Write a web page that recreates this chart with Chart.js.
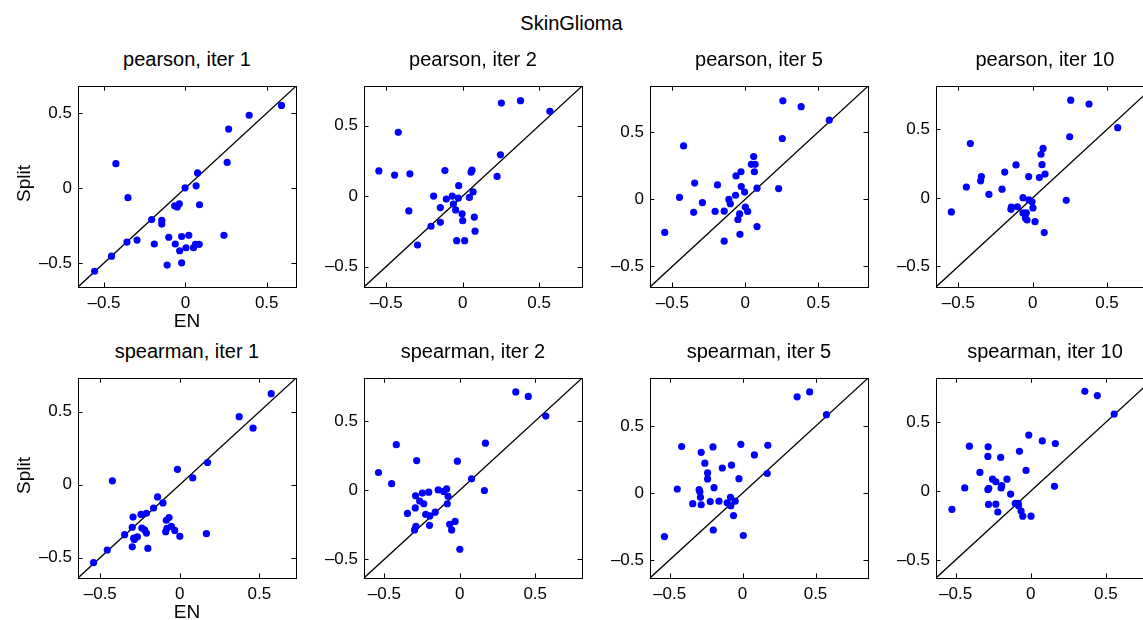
<!DOCTYPE html>
<html>
<head>
<meta charset="utf-8">
<script src="https://cdn.jsdelivr.net/npm/chart.js@4/dist/chart.umd.min.js"></script>
<style>
html,body{margin:0;padding:0;width:1143px;height:620px;overflow:hidden;background:#fff;}
#wrap{position:relative;width:1143px;height:620px;overflow:hidden;font-family:"Liberation Sans",Helvetica,Arial,sans-serif;color:#000;}
canvas{position:absolute;}
.t{position:absolute;white-space:nowrap;text-align:center;line-height:1;}
</style>
</head>
<body>
<div id="wrap"></div>
<script>
// ---- data ----
const mainTitle = "SkinGlioma";
const panelTitles = ["pearson, iter 1","pearson, iter 2","pearson, iter 5","pearson, iter 10",
                     "spearman, iter 1","spearman, iter 2","spearman, iter 5","spearman, iter 10"];
const xLabel = "EN";
const yLabel = "Split";
const tickValues = [-0.5, 0, 0.5];
const axisMin = [-0.66,-0.645,-0.653,-0.65,-0.64,-0.635,-0.635,-0.63];
const axisMax = [0.68,0.78,0.84,0.816,0.73,0.81,0.86,0.82];

const p1x = [-0.558,-0.454,-0.427,-0.353,-0.359,-0.297,-0.207,-0.191,-0.145,-0.145,-0.112,-0.102,-0.062,-0.066,-0.050,-0.037,-0.035,-0.023,-0.023,-0.002,0.004,0.021,0.050,0.062,0.085,0.066,0.075,0.087,0.237,0.257,0.266,0.392,0.591];
const p1y = [-0.555,-0.454,0.163,-0.064,-0.360,-0.347,-0.210,-0.373,-0.216,-0.240,-0.514,-0.328,-0.373,-0.118,-0.126,-0.105,-0.418,-0.323,-0.499,0.002,-0.398,-0.315,-0.398,-0.375,-0.375,0.015,0.101,-0.111,-0.315,0.171,0.394,0.486,0.552];
const p2x = [-0.548,-0.445,-0.421,-0.345,-0.352,-0.295,-0.207,-0.190,-0.146,-0.146,-0.116,-0.107,-0.068,-0.061,-0.046,-0.039,-0.028,-0.026,-0.004,0.000,0.013,0.044,0.055,0.061,0.068,0.076,0.081,0.225,0.247,0.253,0.378,0.570];
const p2y = [0.179,0.149,0.453,0.158,-0.105,-0.347,-0.214,0.000,-0.186,-0.081,0.181,-0.021,0.000,-0.056,-0.098,-0.316,-0.014,0.074,-0.126,-0.174,-0.316,-0.009,0.170,0.184,0.030,-0.149,-0.249,0.140,0.293,0.660,0.677,0.602];
const p3x = [-0.552,-0.451,-0.423,-0.354,-0.347,-0.294,-0.207,-0.191,-0.145,-0.145,-0.113,-0.103,-0.067,-0.064,-0.051,-0.039,-0.037,-0.030,-0.028,-0.005,0.000,0.016,0.041,0.057,0.062,0.067,0.080,0.080,0.228,0.253,0.257,0.382,0.575];
const p3y = [-0.247,0.014,0.396,-0.098,0.120,-0.026,-0.091,0.106,-0.089,-0.312,-0.002,-0.034,0.029,0.173,-0.151,-0.110,-0.261,0.204,0.094,0.053,-0.058,-0.091,0.259,0.317,0.204,0.259,0.082,-0.204,0.079,0.451,0.731,0.688,0.588];
const p4x = [-0.547,-0.446,-0.419,-0.350,-0.345,-0.294,-0.206,-0.188,-0.146,-0.143,-0.112,-0.103,-0.065,-0.065,-0.049,-0.043,-0.038,-0.027,-0.025,-0.004,0.002,0.016,0.045,0.056,0.063,0.070,0.078,0.083,0.226,0.249,0.256,0.379,0.572];
const p4y = [-0.102,0.080,0.397,0.125,0.156,0.026,0.064,0.189,-0.083,-0.066,0.241,-0.064,0.002,-0.109,-0.147,-0.109,-0.161,0.156,-0.014,-0.028,-0.073,-0.173,0.149,0.319,0.243,0.362,-0.253,0.175,-0.017,0.447,0.714,0.686,0.513];
const p5x = [-0.542,-0.456,-0.424,-0.347,-0.299,-0.299,-0.294,-0.290,-0.286,-0.267,-0.244,-0.239,-0.222,-0.210,-0.210,-0.201,-0.165,-0.140,-0.106,-0.089,-0.085,-0.068,-0.081,-0.053,-0.032,0.000,-0.015,0.081,0.167,0.174,0.373,0.460,0.574];
const p5y = [-0.534,-0.448,0.026,-0.343,-0.426,-0.292,-0.222,-0.367,-0.376,-0.358,-0.204,-0.297,-0.310,-0.332,-0.196,-0.437,-0.160,-0.084,-0.125,-0.323,-0.244,-0.226,-0.299,-0.286,-0.314,-0.354,0.105,0.046,-0.336,0.152,0.466,0.387,0.624];
const p6x = [-0.539,-0.452,-0.421,-0.347,-0.300,-0.295,-0.293,-0.286,-0.291,-0.266,-0.248,-0.239,-0.226,-0.206,-0.201,-0.199,-0.163,-0.143,-0.107,-0.087,-0.083,-0.078,-0.067,-0.054,-0.031,-0.016,0.000,0.078,0.163,0.170,0.371,0.454,0.570];
const p6y = [0.128,0.047,0.329,-0.168,-0.287,-0.128,-0.040,0.214,-0.261,-0.079,-0.021,-0.098,-0.175,-0.014,-0.254,-0.186,-0.159,0.002,-0.009,0.009,-0.098,-0.044,-0.247,-0.287,-0.226,0.210,-0.427,0.082,-0.002,0.340,0.711,0.678,0.536];
const p7x = [-0.536,-0.448,-0.418,-0.342,-0.298,-0.293,-0.289,-0.284,-0.284,-0.259,-0.240,-0.240,-0.222,-0.203,-0.201,-0.196,-0.162,-0.139,-0.106,-0.083,-0.081,-0.076,-0.062,-0.051,-0.025,-0.012,0.005,0.081,0.169,0.173,0.374,0.460,0.575];
const p7y = [-0.325,0.031,0.349,-0.079,0.026,0.010,-0.031,-0.087,0.305,0.224,0.151,0.106,-0.063,0.346,-0.276,0.041,-0.060,0.188,-0.072,-0.031,-0.094,0.209,-0.168,-0.060,0.108,0.365,-0.317,0.286,0.147,0.358,0.721,0.757,0.587];
const p8x = [-0.524,-0.439,-0.408,-0.338,-0.285,-0.283,-0.285,-0.279,-0.281,-0.254,-0.232,-0.232,-0.219,-0.200,-0.197,-0.193,-0.158,-0.134,-0.103,-0.083,-0.081,-0.075,-0.064,-0.053,-0.031,-0.013,0.002,0.077,0.158,0.164,0.360,0.443,0.555];
const p8y = [-0.132,0.024,0.327,0.136,0.012,0.322,0.252,0.021,-0.096,0.087,0.068,-0.094,-0.151,0.245,0.024,0.040,0.087,-0.021,-0.089,-0.089,-0.106,0.289,-0.144,-0.181,0.151,0.407,-0.181,0.365,0.035,0.346,0.725,0.694,0.560];

const seriesX = [p1x,p2x,p3x,p4x,p5x,p6x,p7x,p8x];
const seriesY = [p1y,p2y,p3y,p4y,p5y,p6y,p7y,p8y];

// ---- layout ----
const FONT = '"Liberation Sans", Helvetica, Arial, sans-serif';
const colLeft = [78, 364, 650, 936];
const rowTop = [80, 372];
const plotW = 218;
const rowH = [207, 206];
const YAX = 70, XAX = 44, PADT = 10, PADR = 12;
const wrap = document.getElementById('wrap');

function addText(txt, left, top, width, size, rotate) {
  const d = document.createElement('div');
  d.className = 't';
  d.textContent = txt;
  d.style.fontSize = size + 'px';
  d.style.left = left + 'px';
  d.style.top = top + 'px';
  d.style.width = width + 'px';
  if (rotate) { d.style.transform = 'rotate(-90deg)'; }
  wrap.appendChild(d);
  return d;
}

const boxPlugin = {
  id: 'boxTicks',
  afterDatasetsDraw(chart) {
    const ctx = chart.ctx, a = chart.chartArea;
    const xs = chart.scales.x, ys = chart.scales.y;
    const TL = 4.5;
    ctx.save();
    ctx.strokeStyle = '#000';
    ctx.lineWidth = 1;
    ctx.beginPath();
    tickValues.forEach(v => {
      const px = Math.round(xs.getPixelForValue(v)) + 0.5;
      ctx.moveTo(px, a.bottom); ctx.lineTo(px, a.bottom - TL);
      ctx.moveTo(px, a.top); ctx.lineTo(px, a.top + TL);
      const py = Math.round(ys.getPixelForValue(v)) + 0.5;
      ctx.moveTo(a.left, py); ctx.lineTo(a.left + TL, py);
      ctx.moveTo(a.right, py); ctx.lineTo(a.right - TL, py);
    });
    ctx.stroke();
    ctx.strokeRect(Math.round(a.left) + 0.5, Math.round(a.top) + 0.5, Math.round(a.right - a.left), Math.round(a.bottom - a.top));
    ctx.restore();
  }
};

function fmt(v) {
  if (Math.abs(v) < 1e-9) return '0';
  return (v < 0 ? '\u2013' : '') + Math.abs(v).toString();
}

for (let i = 0; i < 8; i++) {
  const r = Math.floor(i / 4), c = i % 4;
  const L = colLeft[c], T = rowTop[r], H = rowH[r];
  const cv = document.createElement('canvas');
  const cw = YAX + plotW + PADR, ch = PADT + H + XAX;
  cv.width = cw; cv.height = ch;
  cv.style.left = (L - YAX) + 'px';
  cv.style.top = (T - PADT) + 'px';
  cv.style.width = cw + 'px'; cv.style.height = ch + 'px';
  wrap.appendChild(cv);

  const lo = axisMin[i], hi = axisMax[i];
  const pts = seriesX[i].map((x, k) => ({x: x, y: seriesY[i][k]}));
  const tickFont = {family: FONT, size: 17};

  new Chart(cv.getContext('2d'), {
    type: 'scatter',
    data: {
      datasets: [
        {data: pts, backgroundColor: '#0000ff', borderColor: '#0000ff', borderWidth: 0,
         pointRadius: 3.6, pointHoverRadius: 3.6, order: 1},
        {type: 'line', data: [{x: lo, y: lo}, {x: hi, y: hi}], borderColor: '#000', borderWidth: 1.3,
         pointRadius: 0, fill: false, showLine: true, order: 2}
      ]
    },
    options: {
      responsive: false, animation: false, devicePixelRatio: 1, events: [],
      layout: {padding: {top: PADT, right: PADR, left: 0, bottom: 0}},
      plugins: {legend: {display: false}, tooltip: {enabled: false}, title: {display: false}},
      scales: {
        x: {
          type: 'linear', position: 'bottom', min: lo, max: hi,
          grid: {display: false, drawTicks: false}, border: {display: false},
          ticks: {color: '#000', font: tickFont, padding: 6, maxRotation: 0, callback: fmt},
          afterBuildTicks(s) { s.ticks = tickValues.map(v => ({value: v})); },
          afterFit(s) { s.height = XAX; }
        },
        y: {
          type: 'linear', position: 'left', min: lo, max: hi,
          grid: {display: false, drawTicks: false}, border: {display: false},
          ticks: {color: '#000', font: tickFont, padding: 6, callback: fmt},
          afterBuildTicks(s) { s.ticks = tickValues.map(v => ({value: v})); },
          afterFit(s) { s.width = YAX; }
        }
      }
    },
    plugins: [boxPlugin]
  });

  const TS = 20;
  addText(panelTitles[i], L, T - 14 - 0.85 * TS, plotW, TS, false);
}

// main title
addText(mainTitle, 0, 30 - 0.85 * 20, 1143, 20, false);
// axis labels on first column
const LS = 19;
addText(xLabel, colLeft[0], 327 - 0.85 * LS, plotW, LS, false);
addText(xLabel, colLeft[0], 618 - 0.85 * LS, plotW, LS, false);
[0, 1].forEach(r => {
  const cy = rowTop[r] + rowH[r] / 2;
  addText(yLabel, 23 - 40, cy - LS / 2, 80, LS, true);
});
</script>
</body>
</html>
